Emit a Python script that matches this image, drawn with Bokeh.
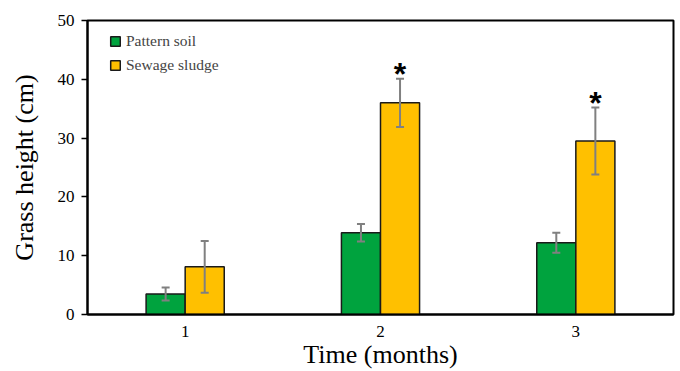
from bokeh.plotting import figure
from bokeh.models import ColumnDataSource, FactorRange, Range1d, Whisker, TeeHead, Legend, LegendItem
from bokeh.transform import dodge
from bokeh.core.properties import value
from bokeh.embed import file_html
from bokeh.resources import INLINE

months = ["1", "2", "3"]
pattern_soil = [3.5, 13.9, 12.2]
pattern_err = [1.1, 1.5, 1.7]
sewage_sludge = [8.1, 36.0, 29.5]
sewage_err = [4.4, 4.1, 5.7]
significant = ["", "*", "*"]
y_ticks = [0, 10, 20, 30, 40, 50]

src = ColumnDataSource(dict(
    month=months,
    ps=pattern_soil,
    ps_up=[v + e for v, e in zip(pattern_soil, pattern_err)],
    ps_lo=[v - e for v, e in zip(pattern_soil, pattern_err)],
    ss=sewage_sludge,
    ss_up=[v + e for v, e in zip(sewage_sludge, sewage_err)],
    ss_lo=[v - e for v, e in zip(sewage_sludge, sewage_err)],
    star=significant,
))

p = figure(width=680, height=371, x_range=FactorRange(*months), y_range=Range1d(0, 50),
           output_backend="svg", toolbar_location=None,
           min_border_left=87, min_border_right=7, min_border_top=20, min_border_bottom=57)

GREEN = "#00A33E"
YELLOW = "#FFC000"
SERIF = "Liberation Serif"

r1 = p.vbar(x=dodge("month", -0.1, range=p.x_range), top="ps", width=0.2, bottom=0, source=src,
            fill_color=GREEN, line_color="#1a1a1a", line_width=1.5)
r2 = p.vbar(x=dodge("month", 0.1, range=p.x_range), top="ss", width=0.2, bottom=0, source=src,
            fill_color=YELLOW, line_color="#1a1a1a", line_width=1.5)

for base, up, lo in [(dodge("month", -0.1, range=p.x_range), "ps_up", "ps_lo"),
                     (dodge("month", 0.1, range=p.x_range), "ss_up", "ss_lo")]:
    w = Whisker(base=base, upper=up, lower=lo, source=src, line_color="#808080", line_width=2,
                upper_head=TeeHead(size=8, line_color="#808080", line_width=2),
                lower_head=TeeHead(size=8, line_color="#808080", line_width=2),
                level="annotation")
    p.add_layout(w)

p.text(x=dodge("month", 0.1, range=p.x_range), y="ss_up", text="star", source=src,
       text_font=value("Liberation Sans"), text_font_style="bold", text_font_size="32px",
       text_align="center", text_baseline="middle", y_offset=-5, text_color="black")

legend = Legend(items=[LegendItem(label="Pattern soil", renderers=[r1]),
                       LegendItem(label="Sewage sludge", renderers=[r2])],
                location=(22, 240), border_line_color=None, background_fill_alpha=0,
                padding=0, margin=0, spacing=6, glyph_width=12, glyph_height=12,
                label_standoff=5, label_text_font=SERIF, label_text_font_size="15.5px",
                label_height=12)
p.add_layout(legend, "center")

p.grid.visible = False
p.outline_line_color = "black"
p.outline_line_width = 2
p.outline_line_alpha = 1

for ax in (p.xaxis[0], p.yaxis[0]):
    ax.axis_line_color = "black"
    ax.axis_line_width = 2
    ax.major_label_text_font = SERIF
    ax.major_label_text_font_size = "17px"
    ax.major_label_text_color = "black"
    ax.axis_label_text_font = SERIF
    ax.axis_label_text_font_size = "26px"
    ax.axis_label_text_font_style = "normal"
    ax.axis_label_text_color = "black"
    ax.minor_tick_line_color = None

p.xaxis.axis_label = "Time (months)"
p.xaxis.major_tick_line_color = None
p.xaxis.major_label_standoff = 5
p.xaxis.axis_label_standoff = 0

p.yaxis.axis_label = "Grass height (cm)"
p.yaxis.ticker = y_ticks
p.yaxis.major_tick_out = 6
p.yaxis.major_tick_in = 0
p.yaxis.major_tick_line_width = 1.5
p.yaxis.major_label_standoff = 7
p.yaxis.axis_label_standoff = 16

open("out.html", "w").write(file_html(p, INLINE))
